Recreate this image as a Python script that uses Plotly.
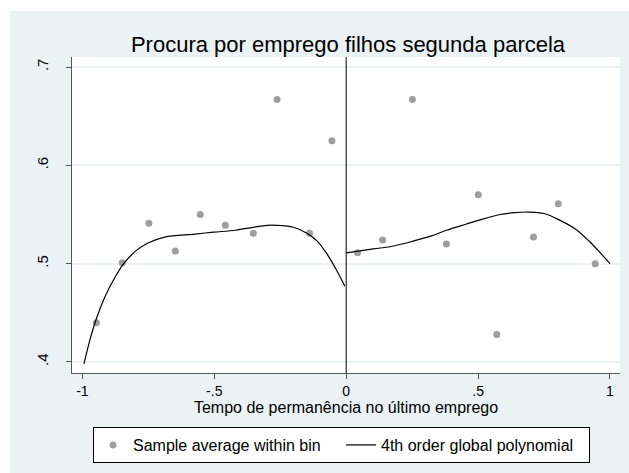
import plotly.graph_objects as go

# Binned sample averages
bin_x_left = [-0.947, -0.849, -0.748, -0.648, -0.553, -0.458, -0.352, -0.262, -0.139, -0.054]
bin_y_left = [0.440, 0.501, 0.541, 0.513, 0.550, 0.539, 0.531, 0.667, 0.531, 0.625]
bin_x_right = [0.043, 0.138, 0.251, 0.380, 0.501, 0.571, 0.710, 0.804, 0.944]
bin_y_right = [0.511, 0.524, 0.667, 0.520, 0.570, 0.428, 0.527, 0.561, 0.500]

# 4th order polynomial fit
fit_x_left = [-0.994, -0.972, -0.947, -0.915, -0.877, -0.839, -0.795, -0.751, -0.688, -0.574,
              -0.504, -0.420, -0.352, -0.300, -0.263, -0.200, -0.149, -0.110, -0.073, -0.040, -0.005]
fit_y_left = [0.398, 0.422, 0.444, 0.466, 0.486, 0.5015, 0.5135, 0.521, 0.527, 0.530,
              0.532, 0.534, 0.537, 0.539, 0.539, 0.537, 0.531, 0.523, 0.510, 0.495, 0.477]
fit_x_right = [0.0, 0.103, 0.180, 0.255, 0.320, 0.381, 0.440, 0.501, 0.583, 0.640, 0.690,
               0.750, 0.811, 0.870, 0.924, 0.960, 1.0]
fit_y_right = [0.511, 0.515, 0.518, 0.523, 0.528, 0.534, 0.539, 0.544, 0.550, 0.552, 0.5525,
               0.551, 0.544, 0.535, 0.522, 0.512, 0.500]

y_ticks = [0.4, 0.5, 0.6, 0.7]
y_tick_labels = [".4", ".5", ".6", ".7"]
x_ticks = [-1, -0.5, 0, 0.5, 1]
x_tick_labels = ["-1", "-.5", "0", ".5", "1"]

BG = "#EAF2F3"
MARK = "#9E9E9E"
FONT = "Liberation Sans, Arial, sans-serif"

fig = go.Figure()
fig.add_trace(go.Scatter(x=bin_x_left + bin_x_right, y=bin_y_left + bin_y_right,
                         mode="markers", name="Sample average within bin",
                         marker=dict(color=MARK, size=7)))
fig.add_trace(go.Scatter(x=fit_x_left, y=fit_y_left, mode="lines",
                         line=dict(color="black", width=1.2, shape="spline"),
                         name="4th order global polynomial", legendgroup="fit"))
fig.add_trace(go.Scatter(x=fit_x_right, y=fit_y_right, mode="lines",
                         line=dict(color="black", width=1.2, shape="spline"),
                         name="4th order global polynomial", legendgroup="fit",
                         showlegend=False))

L, R, T, B = 72, 9, 57, 100
W, H = 629, 473
pw = W - L - R
ph = H - T - B

def px2paper_x(px):
    return (px - L) / pw

def px2paper_y(py):
    return (H - B - py) / ph

fig.update_layout(
    width=W, height=H,
    margin=dict(l=L, r=R, t=T, b=B),
    paper_bgcolor=BG, plot_bgcolor="white",
    font=dict(family=FONT, size=14, color="black"),
    title=dict(text="Procura por emprego filhos segunda parcela",
               font=dict(size=22, color="black"),
               x=px2paper_x(348), xref="paper", xanchor="center",
               y=1 - 44 / H, yanchor="middle"),
    showlegend=True,
    legend=dict(orientation="h", x=px2paper_x(93), xanchor="left",
                y=px2paper_y(427), yanchor="top",
                bgcolor="white", bordercolor="black", borderwidth=1,
                font=dict(size=16), itemwidth=30, entrywidth=203,
                tracegroupgap=0),
    xaxis=dict(range=[-1.0394, 1.038], tickvals=x_ticks, ticktext=x_tick_labels,
               showgrid=False, zeroline=False, showline=True, linecolor="#555555",
               linewidth=1, ticks="outside", ticklen=5, tickcolor="#555555",
               title=dict(text="Tempo de permanência no último emprego",
                          font=dict(size=16), standoff=1)),
    yaxis=dict(range=[0.3888, 0.7102], tickvals=y_ticks, ticktext=y_tick_labels,
               tickangle=-90, showgrid=True, gridcolor=BG, gridwidth=1.5,
               zeroline=False, showline=True, linecolor="#555555", linewidth=1,
               ticks="outside", ticklen=5, tickcolor="#555555",
               tickfont=dict(size=15), ticklabelstandoff=12),
    shapes=[
        dict(type="rect", xref="paper", yref="paper",
             x0=px2paper_x(-5), x1=px2paper_x(10), y0=px2paper_y(H + 5), y1=px2paper_y(-5),
             fillcolor="white", line=dict(width=0), layer="below"),
        dict(type="rect", xref="paper", yref="paper",
             x0=px2paper_x(-5), x1=px2paper_x(W + 5), y0=px2paper_y(11), y1=px2paper_y(-5),
             fillcolor="white", line=dict(width=0), layer="below"),
        dict(type="line", xref="x", yref="paper", x0=0, x1=0, y0=0, y1=1,
             line=dict(color="black", width=1)),
    ],
)

fig.write_html("out.html")
